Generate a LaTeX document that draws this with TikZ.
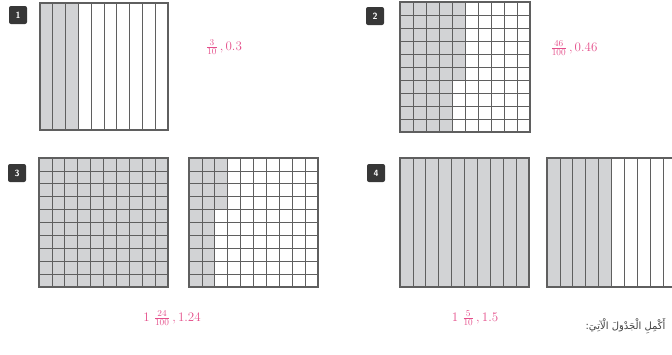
\documentclass[tikz,border=0pt]{standalone}
\usepackage{fontspec}
\newfontfamily\arabicfont[Script=Arabic]{DejaVu Sans}
\TeXXeTstate=1

\definecolor{gridgray}{RGB}{95,95,95}
\definecolor{shadegray}{RGB}{210,211,213}
\definecolor{badgegray}{RGB}{55,55,55}
\definecolor{answerpink}{RGB}{228,78,138}

\tikzset{
	cellline/.style={draw=gridgray, line width=0.7pt},
	outline/.style={draw=gridgray, line width=1.1pt},
	badge/.style={fill=badgegray, rounded corners=2pt, minimum size=18pt, inner sep=0pt,
		text=white, font=\sffamily\bfseries\small},
	answer/.style={text=answerpink, font=\fontsize{13}{15}\selectfont, inner sep=1pt},
}

\begin{document}
\begin{tikzpicture}[x=1pt, y=-1pt]
		\useasboundingbox (0,0) rectangle (672,354);
		\clip (0,0) rectangle (672,354);

		% exercise 1: tenths
		\node[badge] (b1) at (18,15) {1};
		\begin{scope}[shift={(40,3)}]
			\fill[shadegray] (0,0) rectangle (38.4,127);
			\foreach \i in {1,...,9}
				\draw[cellline] (12.8*\i,0) -- (12.8*\i,127);
			\draw[outline] (0,0) rectangle (128,127);
		\end{scope}
		\node[answer] (ans1) at (224,47) {$\frac{3}{10}$\,,\,0.3};

		% exercise 2: hundredths
		\node[badge] (b2) at (375,16) {2};
		\begin{scope}[shift={(400,2)}]
			\fill[shadegray] (0,0) rectangle (52,130);
			\fill[shadegray] (52,0) rectangle (65,78);
			\foreach \i in {1,...,9} {
				\draw[cellline] (13*\i,0) -- (13*\i,130);
				\draw[cellline] (0,13*\i) -- (130,13*\i);
			}
			\draw[outline] (0,0) rectangle (130,130);
		\end{scope}
		\node[answer] (ans2) at (574,48) {$\frac{46}{100}$\,,\,0.46};

		% exercise 3: one whole and 24 hundredths
		\node[badge] (b3) at (17,173) {3};
		\begin{scope}[shift={(39,158)}]
			\fill[shadegray] (0,0) rectangle (129,129);
			\foreach \i in {1,...,9} {
				\draw[cellline] (12.9*\i,0) -- (12.9*\i,129);
				\draw[cellline] (0,12.9*\i) -- (129,12.9*\i);
			}
			\draw[outline] (0,0) rectangle (129,129);
		\end{scope}
		\begin{scope}[shift={(189,158)}]
			\fill[shadegray] (0,0) rectangle (25.8,129);
			\fill[shadegray] (25.8,0) rectangle (38.7,51.6);
			\foreach \i in {1,...,9} {
				\draw[cellline] (12.9*\i,0) -- (12.9*\i,129);
				\draw[cellline] (0,12.9*\i) -- (129,12.9*\i);
			}
			\draw[outline] (0,0) rectangle (129,129);
		\end{scope}
		\node[answer] (ans3) at (172,318) {1 $\frac{24}{100}$\,,\,1.24};

		% exercise 4: one whole and 5 tenths
		\node[badge] (b4) at (376,173) {4};
		\begin{scope}[shift={(400,158)}]
			\fill[shadegray] (0,0) rectangle (129,129);
			\foreach \i in {1,...,9}
				\draw[cellline] (12.9*\i,0) -- (12.9*\i,129);
			\draw[outline] (0,0) rectangle (129,129);
		\end{scope}
		\begin{scope}[shift={(547,158)}]
			\fill[shadegray] (0,0) rectangle (64.5,129);
			\foreach \i in {1,...,9}
				\draw[cellline] (12.9*\i,0) -- (12.9*\i,129);
			\draw[outline] (0,0) rectangle (129,129);
		\end{scope}
		\node[answer] (ans4) at (475,318) {1 $\frac{5}{10}$\,,\,1.5};

		\node[anchor=east, font=\arabicfont\fontsize{10}{12}\selectfont, text=black!75] (task) at (669,326)
			{\beginR أَكْمِلِ الْجَدْوَلَ الْآتِيَ:\endR};
	\end{tikzpicture}
\end{document}
